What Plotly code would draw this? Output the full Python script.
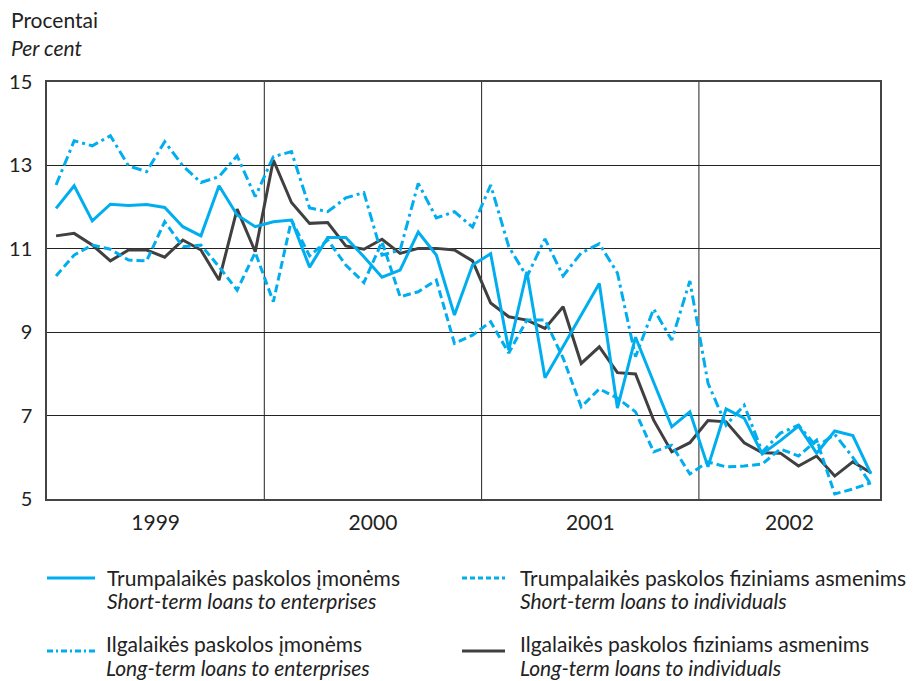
import plotly.graph_objects as go

months = list(range(46))  # Jan 1999 .. Oct 2002
year_labels = ["1999", "2000", "2001", "2002"]
year_centers = [5.5, 17.5, 29.5, 40.5]
year_bounds = [11.5, 23.5, 35.5]

short_enterprises = [11.97, 12.51, 11.67, 12.07, 12.04, 12.06, 11.99, 11.53, 11.31, 12.51, 11.81, 11.53,
                     11.65, 11.69, 10.56, 11.27, 11.27, 10.81, 10.32, 10.49, 11.40, 10.85, 9.41, 10.61,
                     10.88, 8.57, 10.45, 7.91, 8.66, 9.41, 10.17, 7.18, 8.88, 7.80, 6.73, 7.09,
                     5.77, 7.16, 6.94, 6.08, 6.40, 6.75, 6.10, 6.63, 6.52, 5.60]
long_enterprises = [12.53, 13.59, 13.47, 13.71, 12.99, 12.85, 13.57, 12.99, 12.59, 12.73, 13.23, 12.25,
                    13.21, 13.33, 11.98, 11.89, 12.22, 12.35, 10.85, 10.97, 12.57, 11.74, 11.89, 11.52,
                    12.53, 11.05, 10.33, 11.24, 10.35, 10.90, 11.12, 10.42, 8.41, 9.56, 8.81, 10.23,
                    7.78, 6.77, 7.25, 6.13, 6.58, 6.77, 6.25, 6.55, 6.00, 5.35]
short_individuals = [10.35, 10.85, 11.09, 10.99, 10.73, 10.71, 11.65, 11.05, 11.09, 10.57, 10.01, 10.91,
                     9.73, 11.69, 10.83, 11.21, 10.61, 10.19, 11.17, 9.85, 9.97, 10.25, 8.73, 8.93,
                     9.25, 8.50, 9.29, 9.29, 8.38, 7.21, 7.64, 7.42, 7.09, 6.13, 6.29, 5.60,
                     5.89, 5.77, 5.79, 5.84, 6.20, 6.03, 6.41, 5.12, 5.24, 5.39]
long_individuals = [11.31, 11.37, 11.09, 10.71, 10.97, 10.97, 10.80, 11.21, 10.97, 10.25, 11.95, 10.93,
                    13.13, 12.11, 11.61, 11.63, 11.07, 10.99, 11.23, 10.89, 11.01, 11.01, 10.97, 10.71,
                    9.70, 9.37, 9.29, 9.09, 9.61, 8.25, 8.65, 8.03, 8.00, 6.89, 6.13, 6.35,
                    6.88, 6.85, 6.35, 6.11, 6.10, 5.79, 6.03, 5.55, 5.89, 5.63]

BLUE = "#00AEEF"
DARK = "#404040"
TEXT = "#222"
FONT = "Lato"
FS = 21

series = [
    (long_individuals, DARK, "solid", "Ilgalaikės paskolos fiziniams asmenims"),
    (short_individuals, BLUE, "8px,4px", "Trumpalaikės paskolos fiziniams asmenims"),
    (long_enterprises, BLUE, "10px,4px,3px,4px", "Ilgalaikės paskolos įmonėms"),
    (short_enterprises, BLUE, "solid", "Trumpalaikės paskolos įmonėms"),
]

fig = go.Figure()
for vals, col, dash, name in series:
    fig.add_trace(go.Scatter(x=months, y=vals, mode="lines", name=name,
                             line=dict(color=col, width=3, dash=dash), showlegend=False))

# page has an 8px body margin; figure coordinates are page coordinates minus 8
OFF = 8
W, H = 916 - OFF, 681 - OFF
L, T = 47 - OFF, 82 - OFF
R = W - (880 - OFF)
B = H - (499 - OFF)
pw, ph = W - L - R, H - T - B

def px(x):  # page pixel -> paper
    return (x - OFF - L) / pw

def py(y):
    return (H - B - (y - OFF)) / ph

shapes = []
for xb in year_bounds:
    shapes.append(dict(type="line", xref="x", yref="paper", x0=xb, x1=xb, y0=0, y1=1,
                       line=dict(color="#222", width=1), layer="below"))

legend_items = [
    (47, 95, 105, 578, 577, 600, BLUE, "solid", "Trumpalaikės paskolos įmonėms", "Short-term loans to enterprises"),
    (462, 505, 518, 578, 577, 600, BLUE, "5px,3px", "Trumpalaikės paskolos fiziniams asmenims", "Short-term loans to individuals"),
    (47, 95, 104, 651, 643, 667, BLUE, "6px,3px,2px,3px", "Ilgalaikės paskolos įmonėms", "Long-term loans to enterprises"),
    (462, 505, 518, 651, 643, 667, DARK, "solid", "Ilgalaikės paskolos fiziniams asmenims", "Long-term loans to individuals"),
]
annotations = []
for x0, x1, tx, ly, ty1, ty2, col, dash, lt, en in legend_items:
    shapes.append(dict(type="line", xref="paper", yref="paper", x0=px(x0), x1=px(x1), y0=py(ly), y1=py(ly),
                       line=dict(color=col, width=3, dash=dash)))
    annotations.append(dict(xref="paper", yref="paper", x=px(tx), y=py(ty1), xanchor="left", yanchor="middle",
                            showarrow=False, text=lt, font=dict(family=FONT, size=FS, color=TEXT)))
    annotations.append(dict(xref="paper", yref="paper", x=px(tx), y=py(ty2), xanchor="left", yanchor="middle",
                            showarrow=False, text=f"<i>{en}</i>", font=dict(family=FONT, size=FS, color=TEXT)))

annotations.append(dict(xref="paper", yref="paper", x=px(9), y=py(19), xanchor="left", yanchor="middle",
                        showarrow=False, text="Procentai", font=dict(family=FONT, size=FS, color=TEXT)))
annotations.append(dict(xref="paper", yref="paper", x=px(9), y=py(47), xanchor="left", yanchor="middle",
                        showarrow=False, text="<i>Per cent</i>", font=dict(family=FONT, size=FS, color=TEXT)))

fig.update_layout(
    width=W, height=H,
    margin=dict(l=L, r=R, t=T, b=B, autoexpand=False),
    paper_bgcolor="white", plot_bgcolor="white",
    font=dict(family=FONT, size=FS, color=TEXT),
    xaxis=dict(range=[-0.5, 45.5], tickmode="array", tickvals=year_centers, ticktext=year_labels,
               showgrid=False, zeroline=False, showline=True, mirror=True, linecolor="#444", linewidth=1.5,
               ticks="", ticklabelstandoff=4, automargin=False),
    yaxis=dict(range=[5, 15], tickmode="array", tickvals=[5, 7, 9, 11, 13, 15],
               showgrid=True, gridcolor="#222", gridwidth=1, zeroline=False, automargin=False,
               showline=True, mirror=True, linecolor="#444", linewidth=1.5, ticks="", ticklabelstandoff=9,
               tickfont=dict(family=FONT, size=20, color=TEXT)),
    shapes=shapes, annotations=annotations, showlegend=False,
)

fig.write_html("out.html")
